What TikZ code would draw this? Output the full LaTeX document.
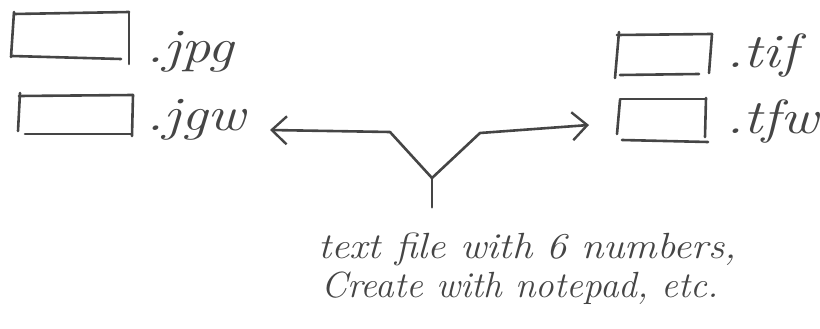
\documentclass[tikz,border=0pt]{standalone}
\usetikzlibrary{arrows.meta}
\definecolor{ink}{HTML}{454545}
\tikzset{
  pen/.style={draw=ink, line width=2.6pt, line join=round, line cap=round},
  hand/.style={text=ink, font=\itshape, inner sep=0pt, anchor=base west},
  barb/.style={-{Straight Barb[length=15pt,width=28pt,line width=2.4pt]}}
}
\newcommand{\myext}[1]{\scalebox{1.95}[1.6]{\fontsize{30}{30}\selectfont #1}}
\newcommand{\mycaption}[2]{\scalebox{#1}[1.3]{\fontsize{28}{28}\selectfont #2}}
\begin{document}
\begin{tikzpicture}[x=1pt,y=-1pt]
\useasboundingbox (0,0) rectangle (820,329);
% boxes (hand-drawn strokes)
\draw[pen] (14,14) -- (129,12);
\draw[pen] (129,12) -- (129,64);
\draw[pen] (12,56) -- (121,59);
\draw[pen] (14,12) -- (11,57);
\draw[pen] (19,96) -- (133,95);
\draw[pen] (133,95) -- (132,136);
\draw[pen] (25,134) -- (131,134);
\draw[pen] (20,93) -- (18,131);
\draw[pen] (617,35) -- (712,34);
\draw[pen] (712,34) -- (709,73);
\draw[pen] (620,75) -- (699,74);
\draw[pen] (619,32) -- (615,78);
\draw[pen] (620,99) -- (706,99);
\draw[pen] (706,98) -- (705,137);
\draw[pen] (622,140) -- (708,142);
\draw[pen] (620,100) -- (617,134);
% box anchors
\coordinate (jpg) at (129,37);
\coordinate (jgw) at (133,115);
\coordinate (tif) at (711,53);
\coordinate (tfw) at (705,118);
% extensions
\node[hand] (tjpg) at (146,63) {\myext{.jpg}};
\node[hand] (tjgw) at (146,130) {\myext{.jgw}};
\node[hand] (ttif) at (726,68) {\myext{.tif}};
\node[hand] (ttfw) at (726,133) {\myext{.tfw}};
% arrows
\coordinate (join) at (432,178);
\coordinate (lt) at (270,130);
\coordinate (rt) at (589,125);
\node[inner sep=0pt] (stem) at (432,208) {};
\draw[pen, barb] (join) -- (390,132) -- (lt);
\draw[pen, barb] (join) -- (480,133) -- (rt);
\draw[pen] (stem) -- (join);
% caption
\node[hand] (l1) at (318,258) {\mycaption{1.45}{text file with 6 numbers,}};
\node[hand] (l2) at (321,297) {\mycaption{1.33}{Create with notepad, etc.}};
\end{tikzpicture}
\end{document}
